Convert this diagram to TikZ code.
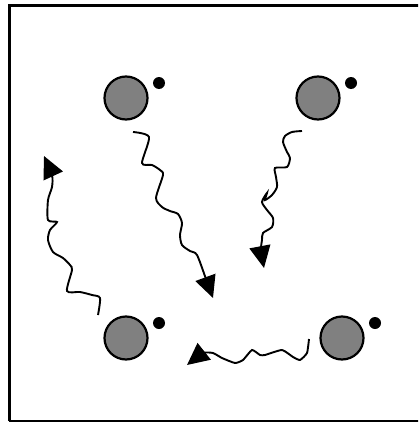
\documentclass[tikz,border=0pt]{standalone}
\usetikzlibrary{arrows.meta}
\tikzset{
  wave/.style={line width=1.9pt, -{Triangle[length=22pt,width=21pt]}},
  ball/.style={draw, line width=2.2pt, fill=black!50},
}
\begin{document}
\begin{tikzpicture}[x=1pt,y=-1pt]
\clip (0,0) rectangle (418,423);
\fill[white] (0,0) rectangle (418,423);
\draw [line width=3pt] (9.5,421) -- (9.5,5.5) -- (430,5.5);
\draw [line width=1.8pt] (9,421) -- (430,421);
% atoms with their small partners
\foreach \x/\y in {126/98, 318/98, 126/338, 342/338}{
\draw [ball] (\x,\y) circle (21.5);
\fill (\x+33,\y-15) circle (6);
}
%\draw (126,98) -- (342,338);
\draw [wave] plot[smooth, tension=0.45] coordinates {(133,132) (149,137) (142,163) (152,165) (160,170) (163,175) (156,198) (162,207) (170,211) (178,214) (182,223) (180,235) (182,245) (190,251) (197,255) (206,279) (213,298)};
\draw [wave] plot[smooth, tension=0.45] coordinates {(302,131) (292,132) (285,136) (283,142) (287,152) (290,158) (287,167) (275,168) (276,177) (277,187) (272,195) (265,200) (267,193) (262,202) (267,210) (273,218) (272,227) (263,233) (262,240) (261,250) (264,268)};
\draw [wave] plot[smooth, tension=0.45] coordinates {(98,315) (100,298) (92,295) (80,292) (67,291) (72,270) (70,265) (63,258) (53,252) (48,240) (50,230) (57,222) (48,220) (48,200) (52,187) (52,175) (44,156)};
\draw [wave] plot[smooth, tension=0.3] coordinates {(309,339) (307,353) (300,360) (293,357) (282,350) (265,355) (260,355) (252,350) (243,360) (235,363) (222,358) (213,353) (203,353) (187,365)};
\end{tikzpicture}
\end{document}
